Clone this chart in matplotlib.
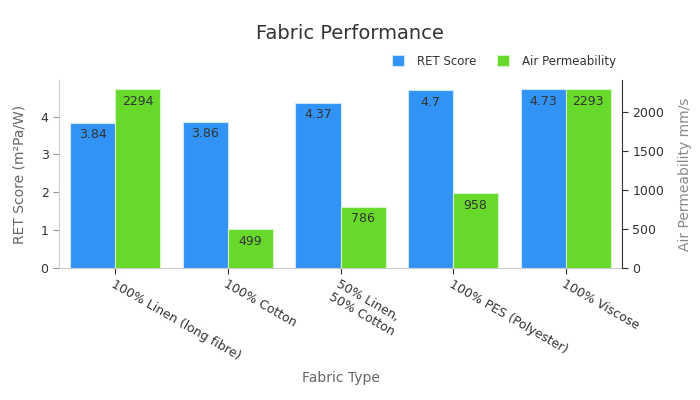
import matplotlib
matplotlib.use("Agg")
import matplotlib.pyplot as plt
import numpy as np

categories = ["100% Linen (long fibre)", "100% Cotton", "50% Linen,\n50% Cotton",
              "100% PES (Polyester)", "100% Viscose"]
ret_score = [3.84, 3.86, 4.37, 4.7, 4.73]
air_perm = [2294, 499, 786, 958, 2293]

blue = "#3193F5"
green = "#66D92A"

fig = plt.figure(figsize=(7, 4), dpi=100)
ax = fig.add_axes([59/700, 132/400, 563/700, 188/400])
ax2 = ax.twinx()

x = np.arange(len(categories))
w = 0.4
b1 = ax.bar(x - w/2, ret_score, w, color=blue, edgecolor="#cfe6ff", linewidth=0.8, label="RET Score")
b2 = ax2.bar(x + w/2, air_perm, w, color=green, edgecolor="#d6f5c4", linewidth=0.8, label="Air Permeability")

ax.set_xlim(-0.5, len(categories) - 0.5)
ax.set_ylim(0, max(ret_score) * 1.05)
ax2.set_ylim(0, max(air_perm) * 1.05)

for rect, v in zip(b1, ret_score):
    ax.annotate(f"{v:g}", (rect.get_x() + rect.get_width()/2, rect.get_height()),
                xytext=(0, -4), textcoords="offset points", ha="center", va="top",
                fontsize=9, color="#333333")
for rect, v in zip(b2, air_perm):
    ax2.annotate(f"{v:g}", (rect.get_x() + rect.get_width()/2, rect.get_height()),
                 xytext=(0, -4), textcoords="offset points", ha="center", va="top",
                 fontsize=9, color="#333333")

ax.set_xticks(x)
ax.set_xticklabels(categories, rotation=-30, ha="left", rotation_mode="anchor",
                   fontsize=9, color="#333333")
ax.tick_params(axis="x", length=4, color="#333333", pad=3)
ax.set_yticks([0, 1, 2, 3, 4])
ax.tick_params(axis="y", labelsize=9, labelcolor="#333333", color="#999999", length=4)
ax2.set_yticks([0, 500, 1000, 1500, 2000])
ax2.tick_params(axis="y", labelsize=9, labelcolor="#333333", color="#333333", length=4)

for s in ["top", "right"]:
    ax.spines[s].set_visible(False)
ax.spines["left"].set_color("#cccccc")
ax.spines["bottom"].set_color("#cccccc")
ax2.spines["top"].set_visible(False)
ax2.spines["left"].set_visible(False)
ax2.spines["bottom"].set_visible(False)
ax2.spines["right"].set_color("#333333")

ax.set_ylabel("RET Score (m²Pa/W)", fontsize=10, color="#666666", labelpad=10)
ax2.set_ylabel("Air Permeability mm/s", fontsize=10, color="#888888", labelpad=10)
ax.set_xlabel("Fabric Type", fontsize=10, color="#666666", labelpad=6)

fig.text(0.5, 0.917, "Fabric Performance", ha="center", va="center", fontsize=14, color="#333333")

handles = [b1, b2]
leg = fig.legend(handles, ["RET Score", "Air Permeability"], loc="center",
                 bbox_to_anchor=(0.72, 0.847), ncol=2, frameon=False, fontsize=8.5,
                 handlelength=1.0, handleheight=1.0, columnspacing=1.8, handletextpad=1.1)
for t in leg.get_texts():
    t.set_color("#333333")

fig.savefig("out.png", dpi=100)
